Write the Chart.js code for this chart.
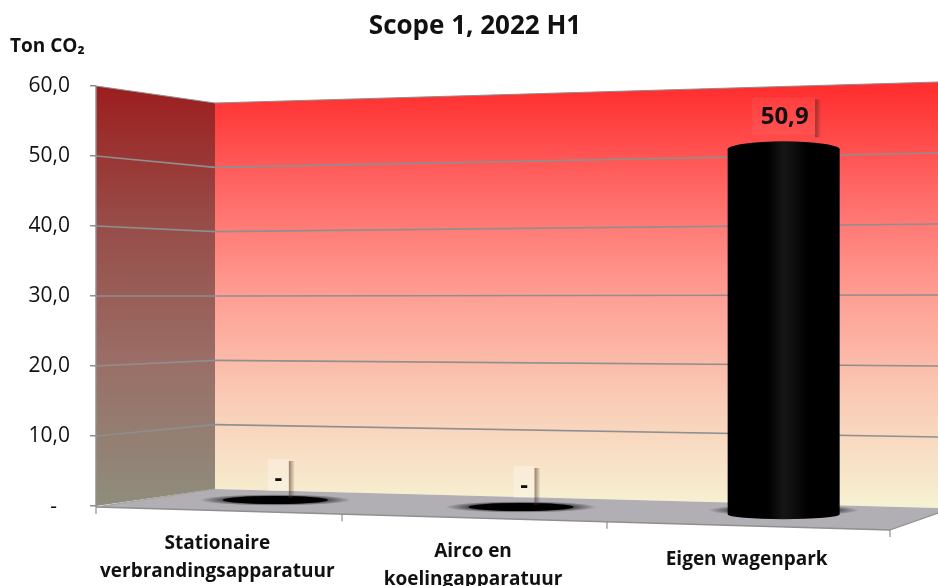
<!DOCTYPE html>
<html><head><meta charset="utf-8">
<style>html,body{margin:0;padding:0;background:#fff}canvas{display:block}</style>
<script src="https://cdn.jsdelivr.net/npm/chart.js@4"></script></head>
<body><canvas id="c" width="938" height="586"></canvas>
<script>
const categories = [["Stationaire","verbrandingsapparatuur"],["Airco en","koelingapparatuur"],["Eigen wagenpark"]];
const seriesValues = [0, 0, 50.9];
const titleText = "Scope 1, 2022 H1";
const unitText = "Ton CO₂";
const yMin = 0, yMax = 60, yStep = 10;
const fmt = v => v === 0 ? "-" : v.toFixed(1).replace(".", ",");

/* perspective styling, in canvas px */
const FONT = "'Open Sans', Lato, sans-serif", INK = "#111";
const BACK_X = 215, RIGHT_X = 938, FLOOR_RIGHT_X = 890;
const BACK_LEFT = {top:103, bottom:489}, BACK_RIGHT = {top:82, bottom:508};
const FLOOR_FRONT = {left:507, right:530}, FLOOR_EDGE_Y = 513;
const tickXs = [96, 342, 607, 890];
const barDx = [47, 28, 26], barDy = [-6, 1, 5], barStretch = 1.015;
const labelNudge = [[-11, 16],[-20, 24],[-11, 32]];
const GRID = "#8f8f8f";

const perspective = {
  id:"perspective",
  afterLayout(chart){
    const x = chart.scales.x, y = chart.scales.y;
    x.getLabelItems().forEach((it,i)=>{ it.options.translation = [it.options.translation[0]+labelNudge[i][0], it.options.translation[1]+labelNudge[i][1]]; });
    y.getLabelItems().forEach(it=>{ if(it.label === "-") it.options.translation = [it.options.translation[0]-13, it.options.translation[1]+1]; });
    chart.boxes.forEach(b=>{
      if(b.options && b.options.text === titleText){ b.left = 12; b.right = 938; }
      if(b.options && b.options.text === unitText){ b.top -= 5; b.bottom -= 5; }
    });
  },
  beforeDraw(chart){
    const {ctx, chartArea:a, scales:{y}} = chart;
    const F = a.left, frac = v => (y.bottom - y.getPixelForValue(v)) / (y.bottom - y.top);
    const yBL = v => BACK_LEFT.bottom + (BACK_LEFT.top-BACK_LEFT.bottom)*frac(v);
    const yBR = v => BACK_RIGHT.bottom + (BACK_RIGHT.top-BACK_RIGHT.bottom)*frac(v);
    const poly = (pts,fill) => { ctx.beginPath(); pts.forEach((p,i)=> i?ctx.lineTo(p[0],p[1]):ctx.moveTo(p[0],p[1])); ctx.closePath(); ctx.fillStyle = fill; ctx.fill(); };
    const line = (x1,y1,x2,y2,w=1.5,c=GRID) => { ctx.beginPath(); ctx.moveTo(x1,y1); ctx.lineTo(x2,y2); ctx.lineWidth=w; ctx.strokeStyle=c; ctx.stroke(); };
    ctx.save();
    const gb = ctx.createLinearGradient(0, 90, 0, 505);
    gb.addColorStop(0, "#ff2f2f"); gb.addColorStop(.25, "#ff6a68"); gb.addColorStop(.5, "#fe9f94");
    gb.addColorStop(.75, "#f9ccb6"); gb.addColorStop(1, "#f6f1d2");
    poly([[BACK_X,yBL(yMax)],[RIGHT_X,yBR(yMax)],[RIGHT_X,yBR(yMin)],[BACK_X,yBL(yMin)]], gb);
    const gl = ctx.createLinearGradient(0, 90, 0, 505);
    gl.addColorStop(0, "#9c1f1f"); gl.addColorStop(.3, "#974a46"); gl.addColorStop(.65, "#9a6e66"); gl.addColorStop(1, "#8f8d7d");
    poly([[F,y.top],[BACK_X,yBL(yMax)],[BACK_X,yBL(yMin)],[F,y.bottom]], gl);
    poly([[BACK_X,yBL(yMin)],[RIGHT_X,yBR(yMin)],[RIGHT_X,FLOOR_EDGE_Y],[FLOOR_RIGHT_X,FLOOR_FRONT.right],[F,FLOOR_FRONT.left]], "#b1aeb4");
    y.ticks.forEach(t=>{
      if(t.value === yMin) return;
      const w = t.value === yMax ? 1.2 : 1.6;
      line(F, y.getPixelForValue(t.value), BACK_X, yBL(t.value), w);
      line(BACK_X, yBL(t.value), RIGHT_X, yBR(t.value), w);
    });
    line(F, y.top, F, y.bottom+1, 1.5);
    line(F, FLOOR_FRONT.left, FLOOR_RIGHT_X, FLOOR_FRONT.right, 1.5);
    line(FLOOR_RIGHT_X, FLOOR_FRONT.right, RIGHT_X, FLOOR_EDGE_Y, 1.2);
    line(F, FLOOR_FRONT.left, BACK_X, BACK_LEFT.bottom, 1, "#a09f98");
    tickXs.forEach(tx=>{
      const ty = FLOOR_FRONT.left + (FLOOR_FRONT.right-FLOOR_FRONT.left)*(tx-F)/(FLOOR_RIGHT_X-F);
      line(tx, ty, tx, ty+7, 1.2);
    });
    ctx.restore();
  },
  afterDatasetsDraw(chart){
    const {ctx} = chart, meta = chart.getDatasetMeta(0);
    meta.data.forEach((el,i)=>{
      const v = seriesValues[i], cx = el.x + barDx[i], base = el.base + barDy[i];
      const top = base - (el.base - el.y)*barStretch, rx = el.width/2, flat = v === 0;
      ctx.save();
      ctx.save();
      ctx.translate(cx, base); ctx.scale(1, .075);
      const sr = rx*1.35, rg = ctx.createRadialGradient(0,0,rx*.7,0,0,sr);
      rg.addColorStop(0,"rgba(0,0,0,.85)"); rg.addColorStop(1,"rgba(0,0,0,0)");
      ctx.fillStyle = rg; ctx.beginPath(); ctx.arc(0,0,sr,0,Math.PI*2); ctx.fill();
      ctx.restore();
      if(flat){
        ctx.fillStyle = "#000"; ctx.beginPath(); ctx.ellipse(cx, base, rx*.94, 4, 0, 0, Math.PI*2); ctx.fill();
      } else {
        const g = ctx.createLinearGradient(cx-rx,0,cx+rx,0);
        g.addColorStop(0,"#000"); g.addColorStop(.36,"#000"); g.addColorStop(.5,"#161616"); g.addColorStop(.56,"#111"); g.addColorStop(.72,"#000"); g.addColorStop(1,"#000");
        ctx.fillStyle = g;
        ctx.beginPath();
        ctx.ellipse(cx, top, rx, 8, 0, Math.PI, 0);
        ctx.lineTo(cx+rx, base+4);
        ctx.ellipse(cx, base+4, rx, 5, 0, 0, Math.PI);
        ctx.closePath(); ctx.fill();
      }
      const text = fmt(v);
      ctx.font = `bold 24px ${FONT}`;
      const w = flat ? 21 : 63, h = flat ? 32 : 37;
      const bx = cx - w/2 + (flat ? 3 : 0), by = top - (flat ? 9 : 15) - h;
      const sh = ctx.createLinearGradient(bx+w, 0, bx+w+6, 0);
      sh.addColorStop(0,"rgba(70,40,30,.55)"); sh.addColorStop(1,"rgba(70,40,30,0)");
      ctx.fillStyle = sh;
      ctx.fillRect(bx+w, by+2, 6, flat ? h+5 : h+1);
      ctx.fillStyle = flat ? "rgba(255,255,255,.28)" : "rgba(255,255,255,.06)";
      ctx.fillRect(bx, by, w, h);
      ctx.fillStyle = INK; ctx.textAlign = "center"; ctx.textBaseline = "middle";
      ctx.fillText(text, bx + w/2 + (flat ? 0 : 1), by + h/2 + (flat ? 4 : 1));
      ctx.restore();
    });
  }
};

new Chart(document.getElementById("c"), {
  type:"bar",
  data:{ labels:categories, datasets:[{ data:seriesValues, backgroundColor:"transparent", borderWidth:0, barThickness:112 }] },
  plugins:[perspective],
  options:{
    responsive:false, animation:false, devicePixelRatio:1,
    layout:{ padding:{left:10, right:48, top:0, bottom:0} },
    plugins:{
      legend:{display:false}, tooltip:{enabled:false},
      title:{ display:true, text:titleText, align:"center", color:INK, padding:{top:12,bottom:0},
              font:{family:FONT, size:26, weight:"bold", lineHeight:"30px"} },
      subtitle:{ display:true, text:unitText, align:"start", color:INK, padding:{top:0,bottom:24},
              font:{family:FONT, size:19, weight:"bold", lineHeight:"20px"} }
    },
    scales:{
      x:{ type:"category", grid:{display:false}, border:{display:false},
          afterFit(s){ s.height = 80; },
          ticks:{ color:INK, autoSkip:false, maxRotation:0, minRotation:0, padding:0,
                  font:{family:FONT, size:19, weight:"bold", lineHeight:1.45} } },
      y:{ min:yMin, max:yMax, border:{display:false},
          grid:{ drawOnChartArea:false, drawTicks:true, tickLength:6, color:GRID, lineWidth:1.5 },
          afterFit(s){ s.width = 86; },
          ticks:{ stepSize:yStep, padding:20, color:INK, callback:v=>fmt(v),
                  font:{family:FONT, size:21} } }
    }
  }
});
</script></body></html>
